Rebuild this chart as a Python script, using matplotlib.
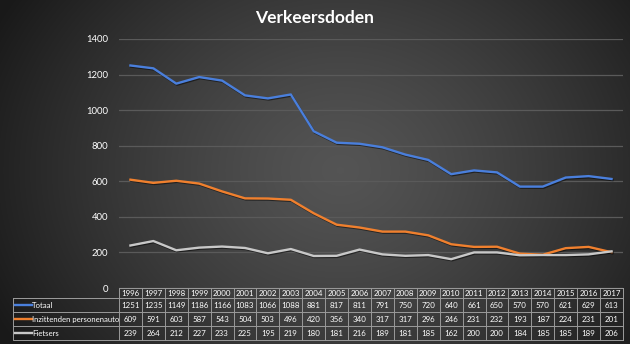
import matplotlib

matplotlib.use("Agg")
import matplotlib.pyplot as plt
import matplotlib.patheffects as pe
import numpy as np
from matplotlib.lines import Line2D
from matplotlib.patches import Rectangle

plt.rcParams["font.family"] = ["Lato", "DejaVu Sans"]

years = [1996, 1997, 1998, 1999, 2000, 2001, 2002, 2003, 2004, 2005, 2006,
         2007, 2008, 2009, 2010, 2011, 2012, 2013, 2014, 2015, 2016, 2017]
totaal = [1251, 1235, 1149, 1186, 1166, 1083, 1066, 1088, 881, 817, 811,
          791, 750, 720, 640, 661, 650, 570, 570, 621, 629, 613]
personenauto = [609, 591, 603, 587, 543, 504, 503, 496, 420, 356, 340,
                317, 317, 296, 246, 231, 232, 193, 187, 224, 231, 201]
fietsers = [239, 264, 212, 227, 233, 225, 195, 219, 180, 181, 216,
            189, 181, 185, 162, 200, 200, 184, 185, 185, 189, 206]

series = [
    ("Totaal", totaal, "#4a7fdc"),
    ("Inzittenden personenauto", personenauto, "#f0802e"),
    ("Fietsers", fietsers, "#c8c8c8"),
]
yticks = [0, 200, 400, 600, 800, 1000, 1200, 1400]

W, H = 630, 344
fig = plt.figure(figsize=(W / 100, H / 100), dpi=100)

# radial gradient background
bg = fig.add_axes([0, 0, 1, 1])
gx, gy = np.meshgrid(np.arange(W), np.arange(H))
r = np.sqrt(((gx - 340) / 360.0) ** 2 + ((gy - 170) / 300.0) ** 2)
shade = np.clip(0.33 - 0.21 * r ** 1.3, 0.10, 0.34)
bg.imshow(np.dstack([shade] * 3), extent=(0, W, H, 0), aspect="auto")
bg.set_xlim(0, W)
bg.set_ylim(H, 0)
bg.axis("off")

# plot area in pixel positions
x0, x1, ytop, ybot = 119, 623, 39, 288
ax = fig.add_axes([x0 / W, (H - ybot) / H, (x1 - x0) / W, (ybot - ytop) / H])
ax.patch.set_alpha(0)
xs = np.arange(len(years))
for name, vals, col in series:
    ax.plot(xs, vals, color=col, lw=1.7, solid_joinstyle="round",
            path_effects=[pe.SimpleLineShadow(offset=(0.6, -0.8), alpha=0.5),
                          pe.Normal()])
ax.set_xlim(-0.5, len(years) - 0.5)
ax.set_ylim(0, 1400)
ax.set_yticks(yticks)
ax.set_yticklabels([str(v) for v in yticks], color="white", fontsize=6.8)
ax.tick_params(axis="y", length=0, pad=8)
ax.set_xticks([])
ax.grid(axis="y", color="#5a5a5a", lw=0.9)
ax.set_axisbelow(True)
for s in ax.spines.values():
    s.set_visible(False)

fig.text(0.5, 1 - 18 / H, "Verkeersdoden", ha="center", va="center",
         color="white", fontsize=12.5, fontweight="bold")

# data table below the plot, drawn in pixel coordinates
tab = fig.add_axes([0, 0, 1, 1])
tab.set_xlim(0, W)
tab.set_ylim(H, 0)
tab.axis("off")
lc = "#9a9a9a"
left = 13
cw = (x1 - x0) / len(years)
rows = [288, 298, 312, 326, 340]
tab.add_patch(Rectangle((x0, rows[0]), x1 - x0, rows[1] - rows[0],
                        fill=False, ec=lc, lw=0.7))
tab.add_patch(Rectangle((left, rows[1]), x1 - left, rows[-1] - rows[1],
                        fill=False, ec=lc, lw=0.7))
for yy in rows[1:-1]:
    tab.plot([left, x1], [yy, yy], color=lc, lw=0.7)
for i in range(len(years) + 1):
    tab.plot([x0 + i * cw] * 2, [rows[0], rows[-1]], color=lc, lw=0.7)

fs = 5.7
for i, yr in enumerate(years):
    tab.text(x0 + (i + 0.5) * cw, (rows[0] + rows[1]) / 2 + 0.5, str(yr),
             ha="center", va="center", color="white", fontsize=fs)
for k, (name, vals, col) in enumerate(series):
    yc = (rows[k + 1] + rows[k + 2]) / 2
    tab.add_line(Line2D([left + 2, left + 19], [yc, yc], color=col, lw=1.7))
    tab.text(left + 19, yc + 0.5, name, ha="left", va="center",
             color="white", fontsize=5.6)
    for i, v in enumerate(vals):
        tab.text(x0 + (i + 0.5) * cw, yc + 0.5, str(v), ha="center",
                 va="center", color="white", fontsize=fs)

fig.savefig("out.png", dpi=100)
